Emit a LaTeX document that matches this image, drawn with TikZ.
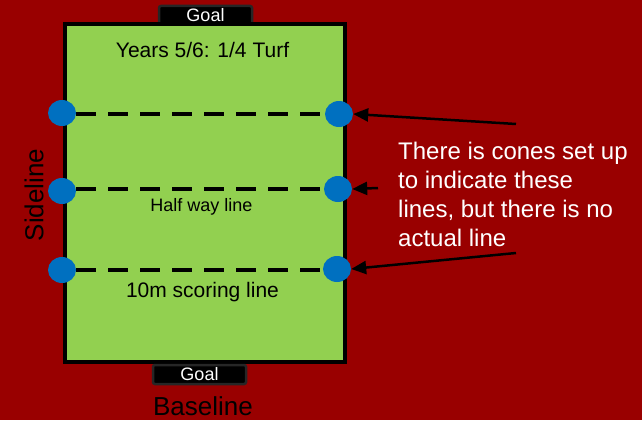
\documentclass[tikz,border=0pt]{standalone}
\usepackage{fontspec}
\setmainfont{Liberation Sans}
\usetikzlibrary{arrows.meta,shapes.geometric}
\definecolor{bgred}{HTML}{990000}
\definecolor{turf}{HTML}{92D050}
\definecolor{cone}{HTML}{0070C0}
\definecolor{goalrim}{HTML}{262626}
\tikzset{
  conedot/.style={ellipse, fill=cone, minimum width=28pt, minimum height=26pt, inner sep=0pt},
  fieldline/.style={line width=4pt, dash pattern=on 20pt off 12pt},
  goalbox/.style={fill=black, draw=goalrim, line width=2.5pt, rounded corners=2pt, minimum width=93pt, minimum height=19pt, inner sep=0pt, text=white, font=\fontsize{18}{18}\selectfont},
  pointer/.style={line width=2.5pt, -{Triangle[length=15pt,width=13pt]}},
  lbl/.style={font=\fontsize{#1}{#1}\selectfont, inner sep=0pt}
}
\begin{document}
\begin{tikzpicture}[x=1pt,y=-1pt]
\fill[bgred] (0,0) rectangle (642,420);
\useasboundingbox (0,0) rectangle (642,420);
% field
\node[goalbox] (goaltop) at (205.5,15.5) {Goal};
\draw[fill=turf, line width=4pt] (65,24) rectangle (345,362);
\node[goalbox] (goalbot) at (199.5,374.5) {Goal};
% dashed lines
\coordinate (l1a) at (76,114); \coordinate (l1b) at (330,114);
\coordinate (l2a) at (76,189); \coordinate (l2b) at (330,189);
\coordinate (l3a) at (76,270); \coordinate (l3b) at (330,270);
\draw[fieldline] (l1a) -- (l1b);
\draw[fieldline] (l2a) -- (l2b);
\draw[fieldline] (l3a) -- (l3b);
% cones
\node[conedot] (c1l) at (62,113) {};
\node[conedot] (c2l) at (62,191) {};
\node[conedot] (c3l) at (62,270) {};
\node[conedot] (c1r) at (339,114) {};
\node[conedot] (c2r) at (338,189) {};
\node[conedot] (c3r) at (337,269) {};
% texts
\node[lbl=21] (title) at (202.5,50) {Years 5/6: 1/4 Turf};
\node[lbl=18] (half) at (201.5,207) {Half way line};
\node[lbl=21] (score) at (202.5,292) {10m scoring line};
\node[lbl=26, rotate=90] (side) at (34,195) {Sideline};
\node[lbl=26] (base) at (203,406) {Baseline};
\node[text=white, align=left, anchor=north west, inner sep=0pt, font=\fontsize{24}{29}\selectfont] (note) at (398,141.5) {There is cones set up\\to indicate these\\lines, but there is no\\actual line};
% pointers
\coordinate (p1) at (516,124);
\coordinate (p2) at (378,188);
\coordinate (p3) at (516,253);
\draw[pointer] (p1) -- (c1r.east);
\draw[pointer] (p2) -- (c2r.east);
\draw[pointer] (p3) -- (c3r.east);
\end{tikzpicture}
\end{document}
